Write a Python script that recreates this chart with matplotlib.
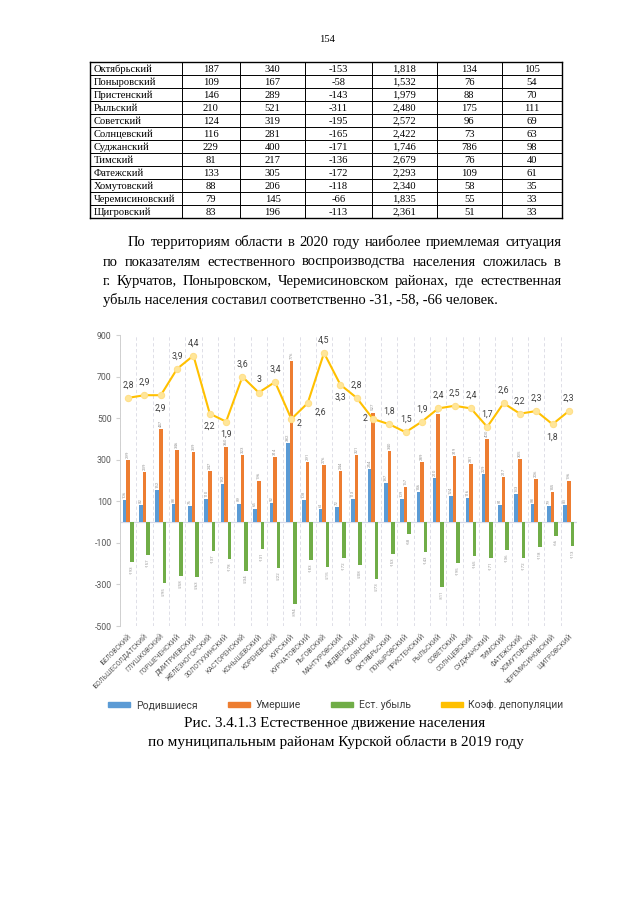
import matplotlib
matplotlib.use('Agg')
import matplotlib.pyplot as plt
import numpy as np
from matplotlib.lines import Line2D
from matplotlib.patches import Patch

# ---------------- data ----------------
page_number = "154"

table_names = ["Октябрьский", "Поныровский", "Пристенский", "Рыльский", "Советский",
               "Солнцевский", "Суджанский", "Тимский", "Фатежский", "Хомутовский",
               "Черемисиновский", "Щигровский"]
table_col1 = ["187", "109", "146", "210", "124", "116", "229", "81", "133", "88", "79", "83"]
table_col2 = ["340", "167", "289", "521", "319", "281", "400", "217", "305", "206", "145", "196"]
table_col3 = ["-153", "-58", "-143", "-311", "-195", "-165", "-171", "-136", "-172", "-118", "-66", "-113"]
table_col4 = ["1,818", "1,532", "1,979", "2,480", "2,572", "2,422", "1,746", "2,679", "2,293",
              "2,340", "1,835", "2,361"]
table_col5 = ["134", "76", "88", "175", "96", "73", "786", "76", "109", "58", "55", "51"]
table_col6 = ["105", "54", "70", "111", "69", "63", "98", "40", "61", "35", "33", "33"]

paragraph_lines = [
    "По территориям области в 2020 году наиболее приемлемая ситуация",
    "по показателям естественного воспроизводства населения сложилась в",
    "г. Курчатов, Поныровском, Черемисиновском районах, где естественная",
    "убыль населения составил соответственно -31, -58, -66 человек.",
]

districts = ["Беловский", "Большесолдатский", "Глушковский", "Горшеченский", "Дмитриевский",
             "Железногорский", "Золотухинский", "Касторенский", "Конышевский", "Кореневский",
             "Курский", "Курчатовский", "Льговский", "Мантуровский", "Медвенский", "Обоянский",
             "Октябрьский", "Поныровский", "Пристенский", "Рыльский", "Советский", "Солнцевский",
             "Суджанский", "Тимский", "Фатежский", "Хомутовский", "Черемисиновский", "Щигровский"]
births = [106, 82, 152, 88, 76, 110, 182, 89, 65, 92, 382, 108, 61, 72, 113, 254,
          187, 109, 146, 210, 124, 116, 229, 81, 133, 88, 79, 83]
deaths = [299, 239, 447, 346, 339, 247, 360, 323, 196, 314, 776, 291, 276, 244, 321, 527,
          340, 167, 289, 521, 319, 281, 400, 217, 305, 206, 145, 196]
natural_loss = [-193, -157, -295, -258, -263, -137, -178, -234, -131, -222, -394, -183, -215,
                -172, -208, -273, -153, -58, -143, -311, -195, -165, -171, -136, -172, -118,
                -66, -113]
depop_coef = [2.8, 2.9, 2.9, 3.9, 4.4, 2.2, 1.9, 3.6, 3.0, 3.4, 2.0, 2.6, 4.5, 3.3, 2.8, 2.0,
              1.8, 1.5, 1.9, 2.4, 2.5, 2.4, 1.7, 2.6, 2.2, 2.3, 1.8, 2.3]
coef_label_pos = ["above", "above", "below", "above", "above", "below", "below", "above",
                  "above", "above", "right", "belowright", "above", "below", "above", "left",
                  "above", "above", "above", "above", "above", "above", "above", "above",
                  "above", "above", "below", "above"]
series_names = ["Родившиеся", "Умершие", "Ест. убыль", "Коэф. депопуляции"]
yticks = [-500, -300, -100, 100, 300, 500, 700, 900]

caption_lines = ["Рис. 3.4.1.3 Естественное движение населения",
                 "по муниципальным районам Курской области в 2019 году"]

# ---------------- figure ----------------
W, H = 640, 905
fig = plt.figure(figsize=(6.4, 9.05), dpi=100)
fig.patch.set_facecolor('white')
renderer = fig.canvas.get_renderer()

SERIF = ['Liberation Serif', 'DejaVu Serif']
SANS = ['Roboto', 'DejaVu Sans']


def fx(x):
    return x / W


def fy(y):
    return 1 - y / H


def width_px(s, size, family):
    t = fig.text(0, 0, s, fontsize=size, family=family)
    w = t.get_window_extent(renderer).width
    t.remove()
    return w


# font sizes fitted to measured widths in the reference
par_size = 10 * 399 / width_px(paragraph_lines[3], 10, SERIF)
tab_size = 10 * 81 / width_px("Черемисиновский", 10, SERIF)
cap_size = 10 * 374 / width_px(caption_lines[1], 10, SERIF)

# page number
fig.text(fx(327), fy(42), page_number, fontsize=tab_size, family=SERIF,
         ha='center', va='baseline')

# ---------------- table ----------------
col_x = [90, 181.7, 240, 305, 371.7, 436.7, 501.7, 561.7]
row_top = 61.7
row_h = 13.0
nrows = len(table_names)
for i in range(nrows + 1):
    yy = fy(row_top + i * row_h)
    lw = 1.0 if i in (0, nrows) else 0.7
    fig.add_artist(Line2D([fx(col_x[0]), fx(col_x[-1])], [yy, yy], color='black', lw=lw))
for j, cx in enumerate(col_x):
    lw = 1.0 if j in (0, len(col_x) - 1) else 0.7
    fig.add_artist(Line2D([fx(cx), fx(cx)], [fy(row_top), fy(row_top + nrows * row_h)],
                          color='black', lw=lw))
cols = [table_col1, table_col2, table_col3, table_col4, table_col5, table_col6]
for i in range(nrows):
    yb = row_top + (i + 1) * row_h - 3
    fig.text(fx(col_x[0] + 4), fy(yb), table_names[i], fontsize=tab_size, family=SERIF,
             ha='left', va='baseline')
    for j, col in enumerate(cols):
        cxm = (col_x[j + 1] + col_x[j + 2]) / 2
        fig.text(fx(cxm), fy(yb), col[i], fontsize=tab_size, family=SERIF,
                 ha='center', va='baseline')


# ---------------- paragraph ----------------
def justify(line, x0, x1, yb, size):
    words = line.split(' ')
    ws = [width_px(w, size, SERIF) for w in words]
    gap = (x1 - x0 - sum(ws)) / (len(words) - 1)
    x = x0
    for w, wd in zip(words, ws):
        fig.text(fx(x), fy(yb), w, fontsize=size, family=SERIF, ha='left', va='baseline')
        x += wd + gap


par_baselines = [246, 265.5, 285, 304]
justify(paragraph_lines[0], 128, 561, par_baselines[0], par_size)
justify(paragraph_lines[1], 103, 561, par_baselines[1], par_size)
justify(paragraph_lines[2], 103, 561, par_baselines[2], par_size)
fig.text(fx(103), fy(par_baselines[3]), paragraph_lines[3], fontsize=par_size, family=SERIF,
         ha='left', va='baseline')

# ---------------- chart ----------------
c_blue, c_orange, c_green, c_yellow = '#5B9BD5', '#ED7D31', '#70AD47', '#FFC000'
grey_txt = '#595959'

ax = fig.add_axes([fx(120), fy(626), (577 - 120) / W, (626 - 335) / H])
x = np.arange(len(districts))
w = 0.22
ax.bar(x - w, births, w, color=c_blue, zorder=3)
ax.bar(x, deaths, w, color=c_orange, zorder=3)
ax.bar(x + w, natural_loss, w, color=c_green, zorder=3)

lab_kw = dict(textcoords='offset points', rotation=90, ha='center', fontsize=3.2,
              color='#9A9A9A', family=SANS)
for i in range(len(x)):
    ax.annotate(str(births[i]), (x[i] - w, births[i]), xytext=(0, 1.5), va='bottom', **lab_kw)
    ax.annotate(str(deaths[i]), (x[i], deaths[i]), xytext=(0, 1.5), va='bottom', **lab_kw)
    ax.annotate(str(natural_loss[i]), (x[i] + w, natural_loss[i]), xytext=(0, -2.5),
                va='top', **lab_kw)

ax.set_xlim(-0.5, len(x) - 0.5)
ax.set_ylim(-500, 900)
ax.set_yticks(yticks)
ax.set_yticklabels([str(v) for v in yticks], fontsize=6.3, color=grey_txt, family=SANS)
ax.set_xticks(x)
ax.set_xticklabels([d.upper() for d in districts], rotation=45, ha='right',
                   rotation_mode='anchor', fontsize=4.9, color=grey_txt, family=SANS)
ax.tick_params(axis='x', length=0, pad=5)
ax.tick_params(axis='y', length=3, color='#D0D0D0', pad=3)
ax.set_xticks(np.arange(-0.5, len(x), 1), minor=True)
ax.tick_params(which='minor', length=0)
ax.grid(which='minor', axis='x', ls=(0, (4, 3)), color='#D9D9E3', lw=0.6, zorder=0)
for s in ['top', 'right', 'bottom']:
    ax.spines[s].set_visible(False)
ax.spines['left'].set_color('#D0D0D0')
ax.spines['left'].set_linewidth(0.7)
ax.axhline(0, color='#D5D8E8', lw=0.9, zorder=2)

ax2 = ax.twinx()
ax2.set_ylim(-5.84, 5.18)
ax2.plot(x, depop_coef, color=c_yellow, lw=1.5, marker='o', ms=4.5,
         mfc='#FFE699', mec='#FFE08A', mew=0.8, zorder=5)
offsets = {'above': (0, 6, 'center', 'bottom'), 'below': (0, -6, 'center', 'top'),
           'right': (4, -3, 'left', 'center'), 'left': (-4, 0, 'right', 'center'),
           'belowright': (5, -3, 'left', 'top')}


def fmt(v):
    return str(int(v)) if float(v).is_integer() else ("%.1f" % v).replace('.', ',')


for i, v in enumerate(depop_coef):
    dx, dy, ha, va = offsets[coef_label_pos[i]]
    ax2.annotate(fmt(v), (x[i], v), xytext=(dx, dy), textcoords='offset points',
                 ha=ha, va=va, fontsize=6.3, color='#404040', family=SANS)
ax2.set_axis_off()

# legend
handles = [Patch(color=c_blue), Patch(color=c_orange), Patch(color=c_green),
           Patch(color=c_yellow)]
fig.legend(handles, series_names, loc='center', bbox_to_anchor=(fx(336), fy(705)), ncol=4,
           frameon=False, handlelength=2.1, handleheight=0.45, handletextpad=0.55,
           columnspacing=2.9, prop={'family': SANS, 'size': 7.5}, labelcolor='#404040')

# caption
fig.text(fx(335), fy(727), caption_lines[0], fontsize=cap_size, family=SERIF,
         ha='center', va='baseline')
fig.text(fx(336), fy(746), caption_lines[1], fontsize=cap_size, family=SERIF,
         ha='center', va='baseline')

fig.savefig('out.png', dpi=100, facecolor='white')
